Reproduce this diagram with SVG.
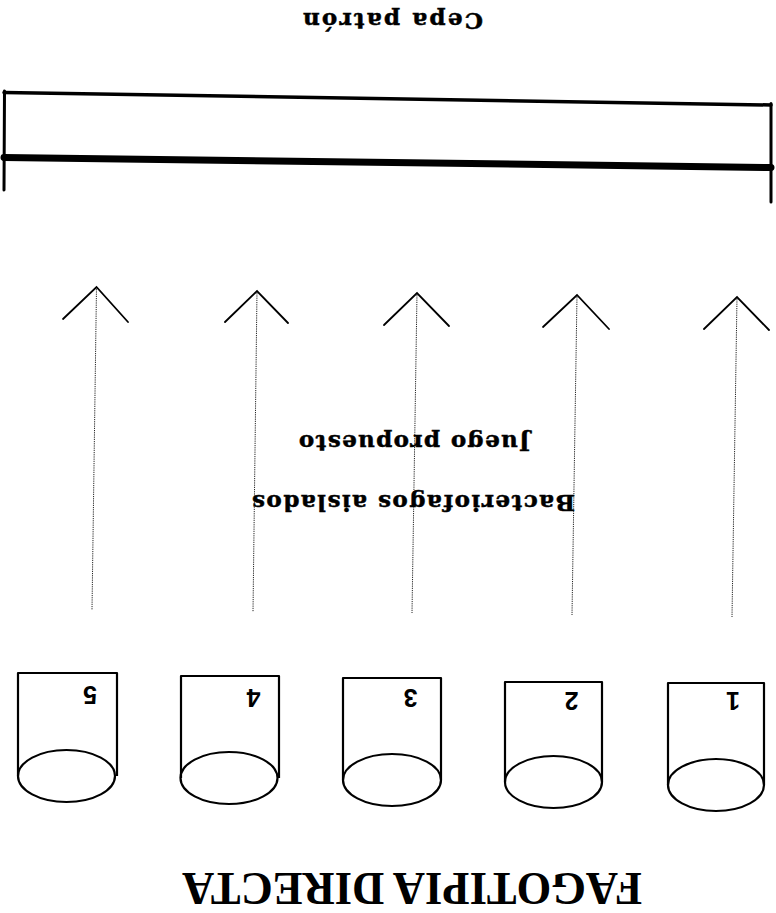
<svg xmlns="http://www.w3.org/2000/svg" width="776" height="913" viewBox="0 0 776 913">
<style>
.ln{stroke:#000;fill:none;stroke-linecap:round;stroke-linejoin:round}
.wing{stroke:#000;stroke-width:1.8;fill:none;stroke-linecap:round;stroke-linejoin:miter}
.shaft{stroke:#222;stroke-width:1;stroke-dasharray:1.2 1;fill:none}
.cyl{stroke:#000;fill:none;stroke-width:2.2;stroke-linejoin:round}
.lbl{font-family:"DejaVu Serif","Liberation Serif",serif;font-weight:bold;font-size:23px;fill:#000;text-anchor:middle;stroke:#000;stroke-width:0.5}
.num{font-family:"Liberation Sans","DejaVu Sans",sans-serif;font-weight:bold;font-size:25px;fill:#000;text-anchor:middle}
.ttl{font-family:"Liberation Serif","DejaVu Serif",serif;font-weight:bold;font-size:46px;fill:#000;text-anchor:middle}
</style>
<rect width="776" height="913" fill="#fff"/>
<g id="cepa-patron">
<line class="ln" x1="4" y1="92.5" x2="771" y2="105" stroke-width="3.5"/>
<line class="ln" x1="4" y1="157.5" x2="771" y2="167.5" stroke-width="7" stroke-linecap="butt"/>
<line class="ln" x1="4.5" y1="91" x2="4" y2="190" stroke-width="3"/>
<line class="ln" x1="771" y1="103.5" x2="771" y2="202" stroke-width="3"/>
<text class="lbl" x="393" y="13" transform="rotate(180 393 13)" textLength="180" lengthAdjust="spacing">Cepa patrón</text>
</g>
<g id="connectors">
<line class="shaft" x1="96.5" y1="287" x2="92" y2="610"/>
<polyline class="wing" points="63,319 96.5,287 128,322"/>
<line class="shaft" x1="257" y1="291" x2="253" y2="612"/>
<polyline class="wing" points="225,322 257,291 288,323"/>
<line class="shaft" x1="417" y1="293" x2="412" y2="613"/>
<polyline class="wing" points="384,325 417,293 449,326"/>
<line class="shaft" x1="577" y1="295" x2="572" y2="615"/>
<polyline class="wing" points="543,327 577,295 609,329"/>
<line class="shaft" x1="737" y1="297" x2="732" y2="617"/>
<polyline class="wing" points="704,329 737,297 769,330"/>
</g>
<g id="labels">
<text class="lbl" x="414.5" y="435" transform="rotate(180 414.5 435)" textLength="231" lengthAdjust="spacing">Juego propuesto</text>
<text class="lbl" x="413.5" y="495" transform="rotate(180 413.5 495)" textLength="323" lengthAdjust="spacing">Bacteriofagos aislados</text>
</g>
<g id="tube-5">
<path class="cyl" d="M18,776 V673 H117 V776"/>
<ellipse class="cyl" cx="66.5" cy="776" rx="48.5" ry="26"/>
<text class="num" x="90" y="686" transform="rotate(180 90 686)">5</text>
</g>
<g id="tube-4">
<path class="cyl" d="M181,778 V676 H279 V778"/>
<ellipse class="cyl" cx="229" cy="778" rx="48.5" ry="26"/>
<text class="num" x="253.5" y="689" transform="rotate(180 253.5 689)">4</text>
</g>
<g id="tube-3">
<path class="cyl" d="M343,780 V678 H441 V780"/>
<ellipse class="cyl" cx="392" cy="780" rx="49" ry="26"/>
<text class="num" x="410.5" y="689" transform="rotate(180 410.5 689)">3</text>
</g>
<g id="tube-2">
<path class="cyl" d="M505,782 V682 H602 V782"/>
<ellipse class="cyl" cx="553.5" cy="782" rx="48.5" ry="26"/>
<text class="num" x="571.5" y="692" transform="rotate(180 571.5 692)">2</text>
</g>
<g id="tube-1">
<path class="cyl" d="M668,785 V683 H764 V785"/>
<ellipse class="cyl" cx="716" cy="785" rx="48" ry="26"/>
<text class="num" x="733" y="692" transform="rotate(180 733 692)">1</text>
</g>
<g id="title">
<text class="ttl" x="412" y="873" transform="rotate(180 412 873)" textLength="460" lengthAdjust="spacingAndGlyphs">FAGOTIPIA DIRECTA</text>
</g>
</svg>
